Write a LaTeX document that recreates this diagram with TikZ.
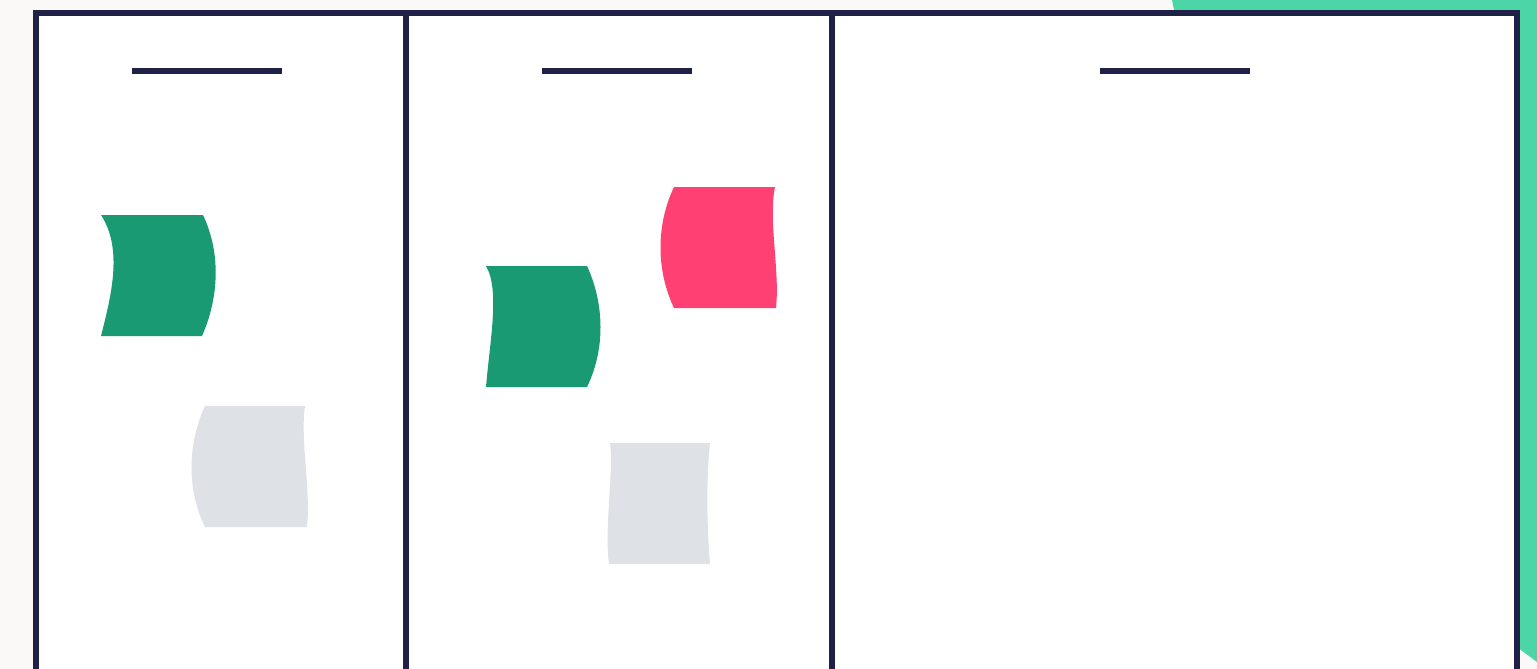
\documentclass[tikz,border=0pt]{standalone}
\usepackage{tikz}
\usetikzlibrary{positioning}

\definecolor{paper}{HTML}{FAF9F7}
\definecolor{navy}{HTML}{1F2147}
\definecolor{mint}{HTML}{4CD6A8}
\definecolor{leafgreen}{HTML}{1A9A72}
\definecolor{rosepink}{HTML}{FF4073}
\definecolor{cardgrey}{HTML}{DEE1E6}

\begin{document}
\begin{tikzpicture}[
    x=0.5pt, y=-0.5pt,
    frame/.style={draw=navy, line width=2.6pt},
    header/.style={draw=navy, line width=2.8pt},
    card/.style={draw=none},
]
% Background
\fill[paper] (0,0) rectangle (1537,669);
\useasboundingbox (0,0) rectangle (1537,669);
\fill[mint] (1172,0) -- (1537,0) -- (1537,662) -- (1400,560) -- (1180,40) -- cycle;

% Board
\fill[white] (36,13) rectangle (1517,700);
\draw[frame] (36,13) rectangle (1517,700);
\draw[frame] (406,13) -- (406,700);
\draw[frame] (832,13) -- (832,700);

% Column headers
\draw[header] (132,71) -- (282,71);
\draw[header] (542,71) -- (692,71);
\draw[header] (1100,71) -- (1250,71);

% Column 1 cards
\fill[leafgreen] (101,215) -- (203,215)
    .. controls (222,255) and (218,300) .. (202,336)
    -- (101,336)
    .. controls (110,300) and (124,250) .. cycle;
\fill[cardgrey] (205,406) -- (305,406)
    .. controls (300,440) and (311,490) .. (307,527)
    -- (205,527)
    .. controls (187,490) and (187,445) .. cycle;

% Column 2 cards
\fill[leafgreen] (486,266) -- (587,266)
    .. controls (605,305) and (605,350) .. (587,387)
    -- (486,387)
    .. controls (490,340) and (500,290) .. cycle;
\fill[rosepink] (674,187) -- (775,187)
    .. controls (768,220) and (780,270) .. (776,308)
    -- (674,308)
    .. controls (656,270) and (656,225) .. cycle;
\fill[cardgrey] (610,443) -- (710,443)
    .. controls (706,480) and (707,530) .. (710,564)
    -- (609,564)
    .. controls (604,530) and (614,470) .. cycle;
\end{tikzpicture}
\end{document}
